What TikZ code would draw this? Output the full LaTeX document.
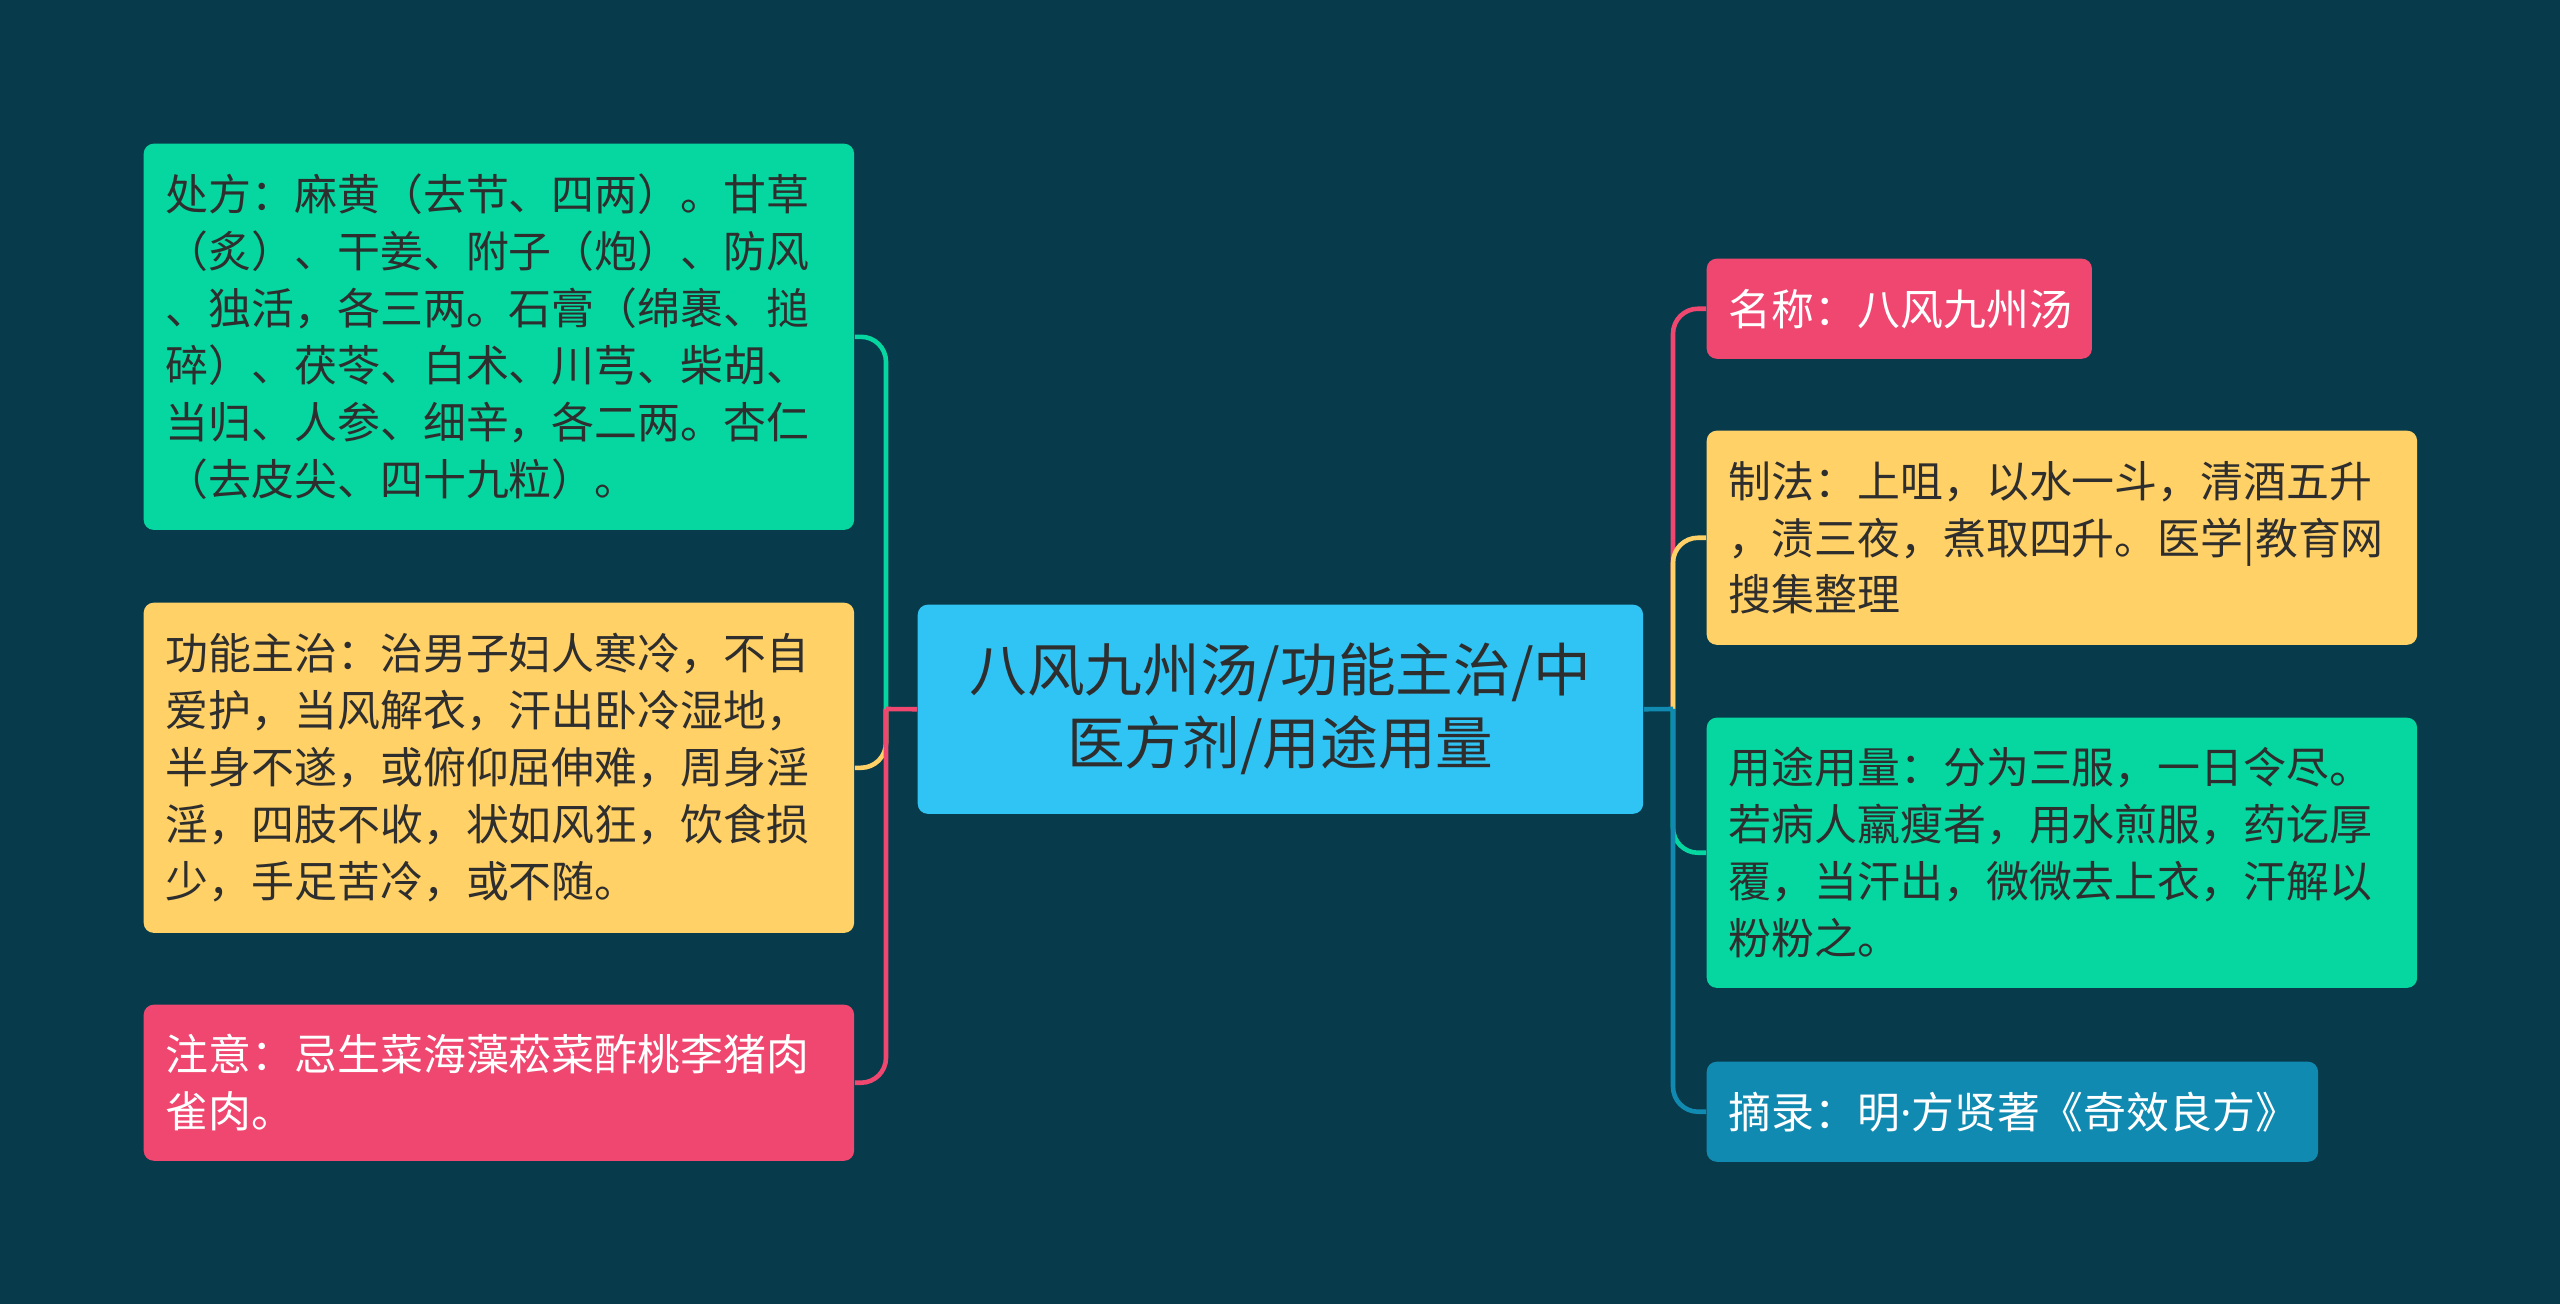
\documentclass[tikz,border=0pt]{standalone}
\usepackage{fontspec}
\newfontfamily\cjk{Noto Sans CJK SC}
\newfontfamily\latinsans{Noto Sans}
\usepackage{tikz}

\definecolor{bgdark}{HTML}{073B4C}
\definecolor{mmpink}{HTML}{EF476F}
\definecolor{mmyellow}{HTML}{FFD166}
\definecolor{mmgreen}{HTML}{06D6A0}
\definecolor{mmblue}{HTML}{118AB2}
\definecolor{mmsky}{HTML}{30C4F5}
\definecolor{inkdark}{HTML}{2E2E2E}

\tikzset{
  topic/.style={rounded corners=0.1cm, inner xsep=0.22cm, inner ysep=0pt,
    anchor=north west, align=left,
    font=\cjk\fontsize{12.2pt}{16.2pt}\selectfont},
  link/.style={line width=1.3pt, rounded corners=0.25cm}
}

\begin{document}
\begin{tikzpicture}[x=0.01cm, y=-0.01cm]
    % Canvas
    \useasboundingbox (0, 0) rectangle (2560, 1304);
    \fill[bgdark] (0, 0) rectangle (2560, 1304);

    % Central topic
    \node[topic, fill=mmsky, text=inkdark, align=center, text width=6.85cm,
          minimum height=2.09cm, inner xsep=0.2cm,
          font=\cjk\fontsize{16.4pt}{20.8pt}\selectfont]
        (root) at (917, 604) {八风九州汤/功能主治/中\\医方剂/用途用量};

    % Left branches
    \node[topic, fill=mmgreen, text=inkdark, text width=6.66cm, minimum height=3.86cm]
        (recipe) at (143, 143)
        {处方：麻黄（去节、四两）。甘草\\（炙）、干姜、附子（炮）、防风\\、独活，各三两。石膏（绵裹、搥\\碎）、茯苓、白术、川芎、柴胡、\\当归、人参、细辛，各二两。杏仁\\（去皮尖、四十九粒）。};
    \node[topic, fill=mmyellow, text=inkdark, text width=6.66cm, minimum height=3.30cm]
        (effect) at (143, 602)
        {功能主治：治男子妇人寒冷，不自\\爱护，当风解衣，汗出卧冷湿地，\\半身不遂，或俯仰屈伸难，周身淫\\淫，四肢不收，状如风狂，饮食损\\少，手足苦冷，或不随。};
    \node[topic, fill=mmpink, text=white, text width=6.66cm, minimum height=1.56cm]
        (caution) at (143, 1004)
        {注意：忌生菜海藻菘菜酢桃李猪肉\\雀肉。};

    % Right branches
    \node[topic, fill=mmpink, text=white, text width=3.41cm, minimum height=1.00cm]
        (title) at (1706, 258) {名称：八风九州汤};
    \node[topic, fill=mmyellow, text=inkdark, text width=6.66cm, minimum height=2.14cm]
        (method) at (1706, 430)
        {制法：上咀，以水一斗，清酒五升\\，渍三夜，煮取四升。医学|教育网\\搜集整理};
    \node[topic, fill=mmgreen, text=inkdark, text width=6.66cm, minimum height=2.70cm]
        (usage) at (1706, 717)
        {用途用量：分为三服，一日令尽。\\若病人羸瘦者，用水煎服，药讫厚\\覆，当汗出，微微去上衣，汗解以\\粉粉之。};
    \node[topic, fill=mmblue, text=white, text width=5.67cm, minimum height=1.00cm]
        (source) at (1706, 1061) {摘录：明{\latinsans ·}方贤著《奇效良方》};

    % Junctions
    \coordinate (Ljoint) at (886, 709);
    \coordinate (Rjoint) at (1673, 709);

    % Left connectors
    \draw[link, mmgreen] (Ljoint) |- (recipe.east);
    \draw[link, mmyellow] (Ljoint) |- (effect.east);
    \draw[link, mmpink] (Ljoint) |- (caution.east);
    \draw[link, mmpink] (root.west) -- (Ljoint);

    % Right connectors
    \draw[link, mmpink] (Rjoint) |- (title.west);
    \draw[link, mmyellow] (Rjoint) |- (method.west);
    \draw[link, mmgreen] (Rjoint) |- (usage.west);
    \draw[link, mmblue] (Rjoint) |- (source.west);
    \draw[link, mmblue] (root.east) -- (Rjoint);

\end{tikzpicture}
\end{document}
